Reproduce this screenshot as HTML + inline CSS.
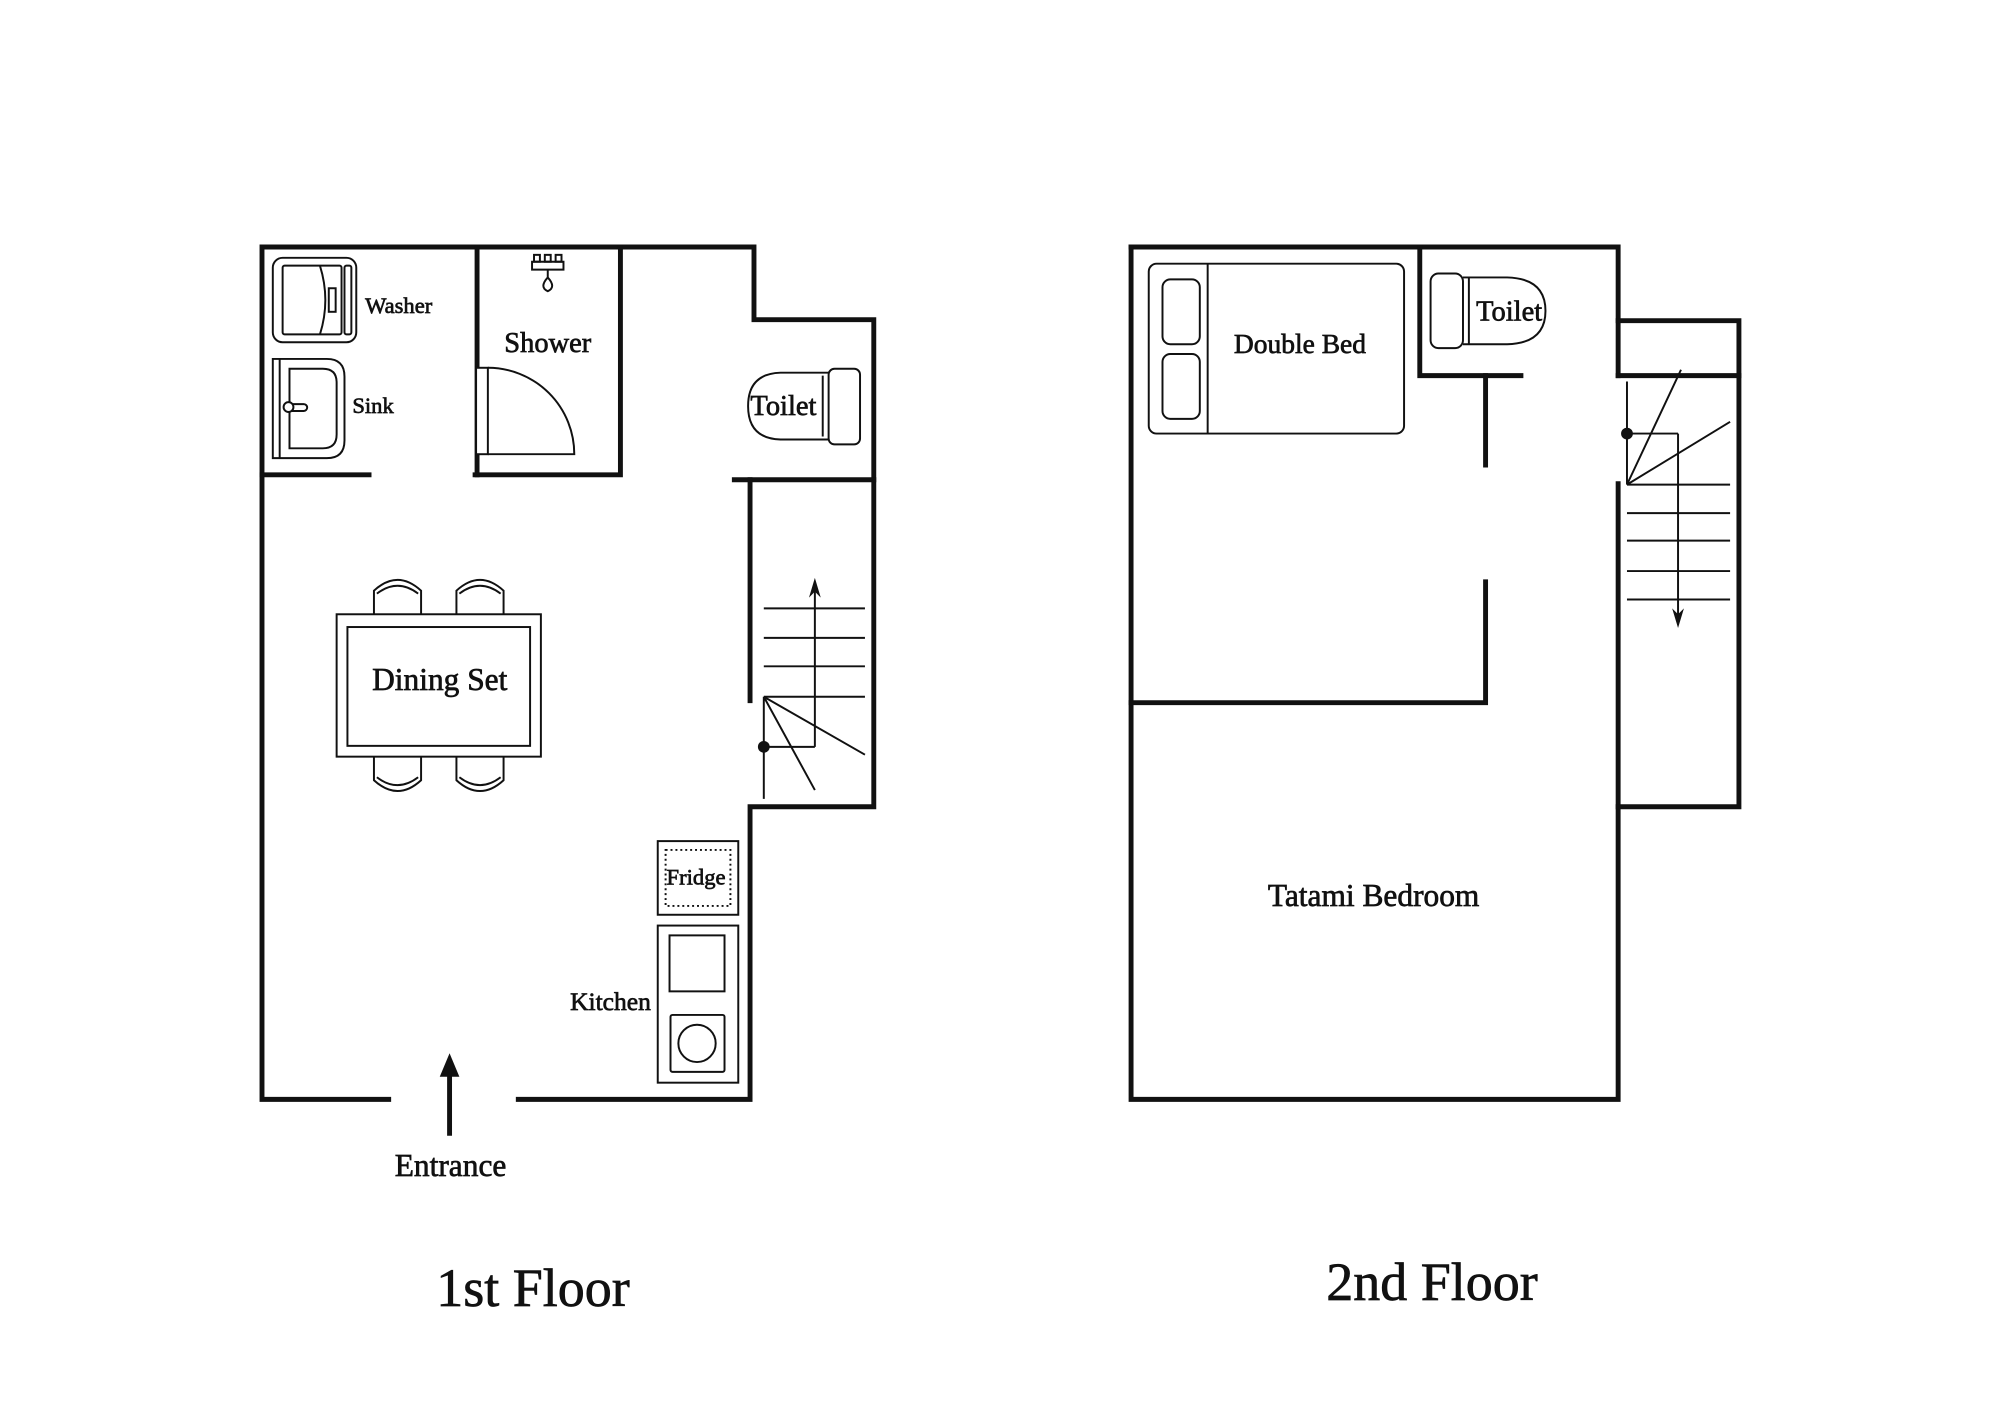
<!DOCTYPE html>
<html><head><meta charset="utf-8"><style>
html,body{margin:0;padding:0;background:#fff}
svg{display:block}
text{font-family:"Liberation Serif",serif;fill:#111}
.l{stroke:#111;stroke-width:0.7}
</style></head><body>
<svg width="2000" height="1415" viewBox="0 0 2000 1415" xmlns="http://www.w3.org/2000/svg">
<g transform="translate(262,247) scale(0.982) translate(-262,-247)">
<g fill="none" stroke="#111" stroke-width="5" stroke-linecap="square">
<path d="M391,1115 H262 V247 H763 V321 H885 V817 H759 V1115 H523"/>
<path d="M262,479 H371"/>
<path d="M479,479 H627 V247"/>
<path d="M481,247 V479"/>
<path d="M743,484 H885"/>
<path d="M759,484 V709"/>
<path d="M1147,247 H1643 V378"/>
<path d="M1643,488 V1115 H1147 V247"/>
<path d="M1643,322 H1766 V817 H1643"/>
<path d="M1643,378 H1766"/>
<path d="M1441,247 V378 H1544"/>
<path d="M1508,378 V469"/>
<path d="M1508,588 V711 H1147"/>
</g>
<g fill="none" stroke="#111" stroke-width="2">
<rect x="273" y="258" width="85" height="86" rx="10"/>
<rect x="283" y="266" width="60" height="70" rx="2"/>
<rect x="346" y="266" width="7" height="70" rx="2"/>
<path d="M321,266 Q332,301 321,336"/>
<rect x="330" y="289" width="7" height="24"/>
<path d="M273,361 H328 Q346,361 346,379 V444 Q346,462 328,462 H273 Z"/>
<path d="M280,361 V462"/>
<path d="M290,371 H324 Q338,371 338,385 V438 Q338,452 324,452 H290 Z"/>
<rect x="286" y="407" width="22" height="7" rx="3.5"/>
<circle cx="289" cy="410" r="5" fill="#fff"/>
<rect x="480" y="370" width="12" height="88" fill="#fff"/>
<path d="M492,370 A88,88 0 0 1 580,458 H492"/>
<path d="M537,262 h32 v8 h-32z"/>
<rect x="539" y="255" width="6" height="7"/><rect x="550" y="255" width="6" height="7"/><rect x="561" y="255" width="6" height="7"/>
<path d="M553,270 V278 Q562,288 553,292 Q544,288 553,278"/>
<path d="M839,375 H790 Q757,376 757,409 Q757,442 790,443 H839"/>
<rect x="839" y="371" width="32" height="77" rx="6" fill="#fff"/>
<path d="M833,378 V440"/>
<path d="M773,615 H876 M773,645 H876 M773,674 H876 M773,705 H876"/>
<path d="M825,756 V590 M773,756 H825 M773,705 V809 M773,705 L876,764 M773,705 L825,800"/>
<rect x="338" y="621" width="208" height="145"/>
<rect x="349" y="634" width="186" height="121"/>
<g id="ch">
<path d="M376,621 V597 Q400,575 424,597 V621"/>
<path d="M379,600 Q400,584 421,600"/>
</g>
<use href="#ch" x="84"/>
<use href="#ch" transform="translate(0,1387) scale(1,-1)"/>
<use href="#ch" transform="translate(84,1387) scale(1,-1)"/>
<rect x="665" y="852" width="82" height="75"/>
<rect x="673" y="861" width="66" height="57" stroke-dasharray="2,3"/>
<rect x="665" y="938" width="82" height="160"/>
<rect x="677" y="948" width="56" height="57"/>
<rect x="678" y="1029" width="55" height="58" rx="2"/>
<circle cx="705" cy="1058" r="19"/>
<rect x="1165" y="264" width="260" height="173" rx="8"/>
<path d="M1225,264 V437"/>
<rect x="1179" y="280" width="38" height="66" rx="8"/>
<rect x="1179" y="356" width="38" height="66" rx="8"/>
<path d="M1485,278 H1530 Q1569,279 1569,312 Q1569,345 1530,346 H1485"/>
<rect x="1452" y="274" width="33" height="76" rx="8" fill="#fff"/>
<path d="M1491,278 V346"/>
<path d="M1652,489 H1757 M1652,518 H1757 M1652,546 H1757 M1652,577 H1757 M1652,606 H1757"/>
<path d="M1704,437 V625 M1652,437 H1704 M1652,384 V489 M1652,489 L1707,372 M1652,489 L1757,425"/>
</g>
<g fill="#111">
<circle cx="773" cy="756" r="6"/>
<circle cx="1652" cy="437" r="6"/>
<path d="M819,604 L825,584 L831,604 L825,598 Z"/>
<path d="M1698,615 L1704,635 L1710,615 L1704,621 Z"/>
<path d="M453,1152 V1090" stroke="#111" stroke-width="5"/>
<path d="M443,1092 L453,1068 L463,1092 Z"/>
</g>
<text class="l" x="367" y="314" font-size="23">Washer</text>
<text class="l" x="354" y="416" font-size="23">Sink</text>
<text class="l" x="553" y="354" font-size="29" text-anchor="middle">Shower</text>
<text class="l" x="793" y="418" font-size="29" text-anchor="middle">Toilet</text>
<text class="l" x="443" y="698" font-size="32" text-anchor="middle">Dining Set</text>
<text class="l" x="704" y="896" font-size="23" text-anchor="middle">Fridge</text>
<text class="l" x="658" y="1024" font-size="26" text-anchor="end">Kitchen</text>
<text class="l" x="454" y="1193" font-size="32" text-anchor="middle">Entrance</text>
<text class="l" x="1319" y="355" font-size="28" text-anchor="middle">Double Bed</text>
<text class="l" x="1532" y="322" font-size="29" text-anchor="middle">Toilet</text>
<text class="l" x="1394" y="918" font-size="32" text-anchor="middle">Tatami Bedroom</text>
</g>
<text class="l" x="533" y="1306" font-size="54" text-anchor="middle">1st Floor</text>
<text class="l" x="1432" y="1300" font-size="54" text-anchor="middle">2nd Floor</text>
</svg>
</body></html>
